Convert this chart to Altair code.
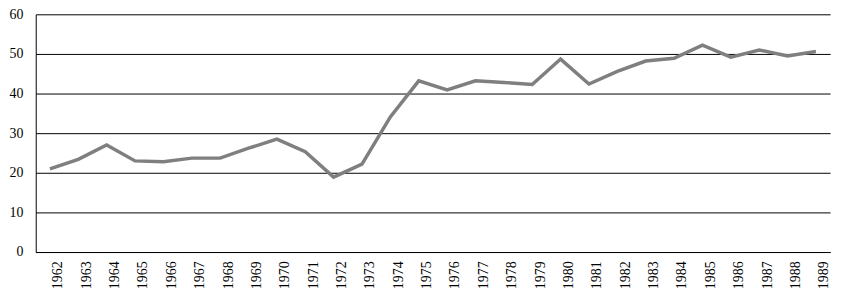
import altair as alt
import pandas as pd

years = [str(y) for y in range(1962, 1990)]
values = [21.0, 23.4, 27.0, 23.0, 22.8, 23.7, 23.7, 26.2, 28.5,
          25.3, 18.9, 22.2, 34.1, 43.2, 40.9, 43.2, 42.8, 42.3,
          48.7, 42.4, 45.6, 48.2, 48.9, 52.2, 49.2, 51.0, 49.5, 50.6]

df = pd.DataFrame({"year": years, "value": values})

FONT = "Liberation Serif, DejaVu Serif, serif"

chart = (
    alt.Chart(df)
    .mark_line(color="#7f7f7f", strokeWidth=3.5, strokeJoin="miter")
    .encode(
        x=alt.X(
            "year:N",
            sort=years,
            scale=alt.Scale(paddingInner=0, paddingOuter=0.5),
            axis=alt.Axis(
                title=None,
                labelAngle=-90,
                labelOffset=8,
                labelPadding=9,
                ticks=False,
                grid=False,
                domainColor="black",
                domainWidth=1,
                labelFont=FONT,
                labelFontSize=14,
                labelColor="black",
            ),
        ),
        y=alt.Y(
            "value:Q",
            scale=alt.Scale(domain=[0, 60], nice=False),
            axis=alt.Axis(
                title=None,
                values=[0, 10, 20, 30, 40, 50, 60],
                ticks=False,
                labelPadding=13,
                grid=True,
                gridColor="black",
                gridWidth=1,
                gridOpacity=1,
                domainColor="black",
                domainWidth=1,
                labelFont=FONT,
                labelFontSize=14,
                labelColor="black",
            ),
        ),
    )
    .properties(
        width=802,
        height=240,
        autosize=alt.AutoSizeParams(type="none"),
        padding={"left": 28, "top": 5, "right": 10, "bottom": 40},
    )
    .configure_view(stroke=None)
)

chart.save("out.html", embed_options={"renderer": "svg", "actions": False})
